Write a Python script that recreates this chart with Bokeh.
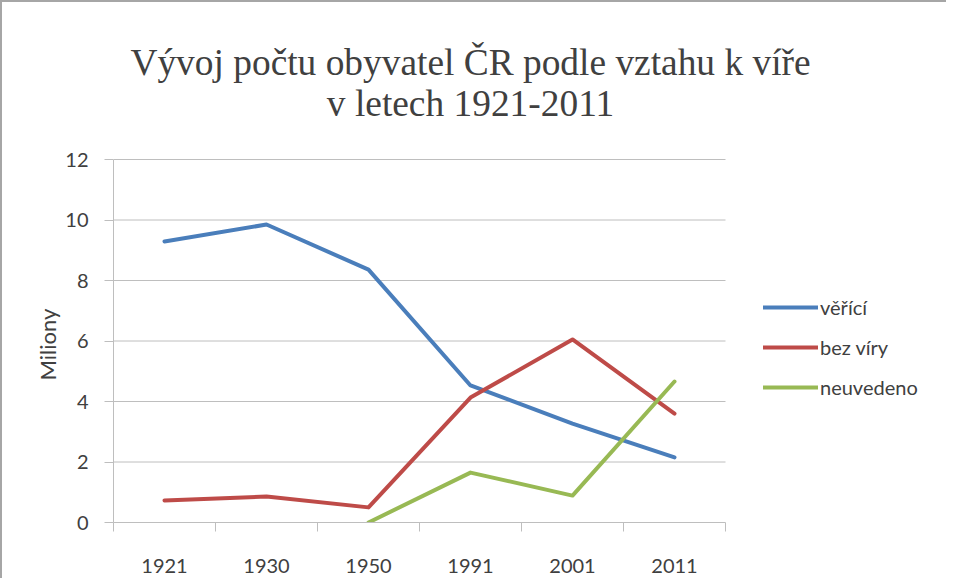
from bokeh.plotting import figure
from bokeh.models import (Range1d, FixedTicker, Legend, LegendItem, Label, Title)
from bokeh.embed import file_html
from bokeh.resources import INLINE

years = ["1921", "1930", "1950", "1991", "2001", "2011"]
verici = [9.29, 9.85, 8.36, 4.53, 3.27, 2.15]
bez_viry = [0.73, 0.86, 0.50, 4.13, 6.05, 3.60]
neuvedeno = [float("nan"), float("nan"), 0.0, 1.65, 0.89, 4.66]
series_names = ["věřící", "bez víry", "neuvedeno"]
series_colors = ["#4A7EBB", "#BE4B48", "#98B954"]
y_ticks = [0, 2, 4, 6, 8, 10, 12]
title_lines = ["Vývoj počtu obyvatel ČR podle vztahu k víře", "v letech 1921-2011"]
y_label = "Miliony"

n = len(years)
xs = [i + 0.5 for i in range(n)]
y_top = y_ticks[-1]

W, H = 946, 578
left_b, bottom_b = 111, 58
cat_px = 102                      # pixel width of one category slot
unit_px = 30.25                   # pixels per million on the y axis
frame_w = W - left_b
frame_h = H - bottom_b
x_end = frame_w / cat_px          # frame extends right to host the legend
y_end = frame_h / unit_px         # frame extends up to host the title

p = figure(width=W, height=H, output_backend="svg", toolbar_location=None,
           x_range=Range1d(0, x_end), y_range=Range1d(0, y_end),
           min_border_left=left_b, min_border_right=0, min_border_bottom=bottom_b,
           min_border_top=0)
p.styles = {"border-left": "2px solid #a6a6a6", "border-top": "2px solid #a6a6a6"}
p.outline_line_color = None
p.background_fill_color = "white"
p.border_fill_color = "white"

tcol = "#404040"
title_y = [y_top + 3.2, y_top + 1.85]
for txt, ty in zip(title_lines, title_y):
    p.add_layout(Label(x=n / 2 + 0.5, y=ty, text=txt, text_align="center",
                       text_baseline="middle", text_font="Liberation Serif",
                       text_font_size="37.4px", text_color=tcol))

gray = "#BEBEBE"
lab = "#404040"

# horizontal gridlines limited to the category area
p.xgrid.grid_line_color = None
p.ygrid.grid_line_color = None
p.segment(x0=0, x1=n, y0=y_ticks[1:], y1=y_ticks[1:], line_color=gray, line_width=1)

# x axis
p.xaxis.bounds = (0, n)
p.xaxis.ticker = FixedTicker(ticks=xs, minor_ticks=list(range(n + 1)))
p.xaxis.major_label_overrides = {x: y for x, y in zip(xs, years)}
p.xaxis.major_tick_line_color = None
p.xaxis.major_tick_out = 0
p.xaxis.major_tick_in = 0
p.xaxis.minor_tick_out = 9
p.xaxis.minor_tick_in = 0
p.xaxis.minor_tick_line_color = gray
p.xaxis.axis_line_color = gray
p.xaxis.major_label_standoff = 27
p.xaxis.major_label_text_font = "Lato"
p.xaxis.major_label_text_font_size = "20px"
p.xaxis.major_label_text_color = lab

# y axis
p.yaxis.bounds = (0, y_top)
p.yaxis.ticker = FixedTicker(ticks=y_ticks)
p.yaxis.major_tick_out = 9
p.yaxis.major_tick_in = 0
p.yaxis.minor_tick_line_color = None
p.yaxis.major_tick_line_color = gray
p.yaxis.axis_line_color = gray
p.yaxis.major_label_standoff = 16
p.yaxis.major_label_text_font = "Lato"
p.yaxis.major_label_text_font_size = "20px"
p.yaxis.major_label_text_color = lab

# y axis title, placed beside the 0-12 part of the axis
p.add_layout(Title(text=y_label, align="left", offset=142, standoff=3,
                   text_font="Lato", text_font_size="22px", text_font_style="normal",
                   text_color=lab), "left")

items = []
for name, vals, col in zip(series_names, [verici, bez_viry, neuvedeno], series_colors):
    r = p.line(xs, vals, line_color=col, line_width=4, line_cap="round", line_join="round")
    items.append(LegendItem(label=name, renderers=[r]))

legend = Legend(items=items, location=(650, 123), glyph_width=55, glyph_height=20,
                label_height=20, spacing=16, label_standoff=2, padding=0, margin=0,
                border_line_color=None, background_fill_alpha=0,
                label_text_font="Lato", label_text_font_size="20px",
                label_text_color=lab)
p.add_layout(legend)

open("out.html", "w").write(file_html(p, INLINE))
